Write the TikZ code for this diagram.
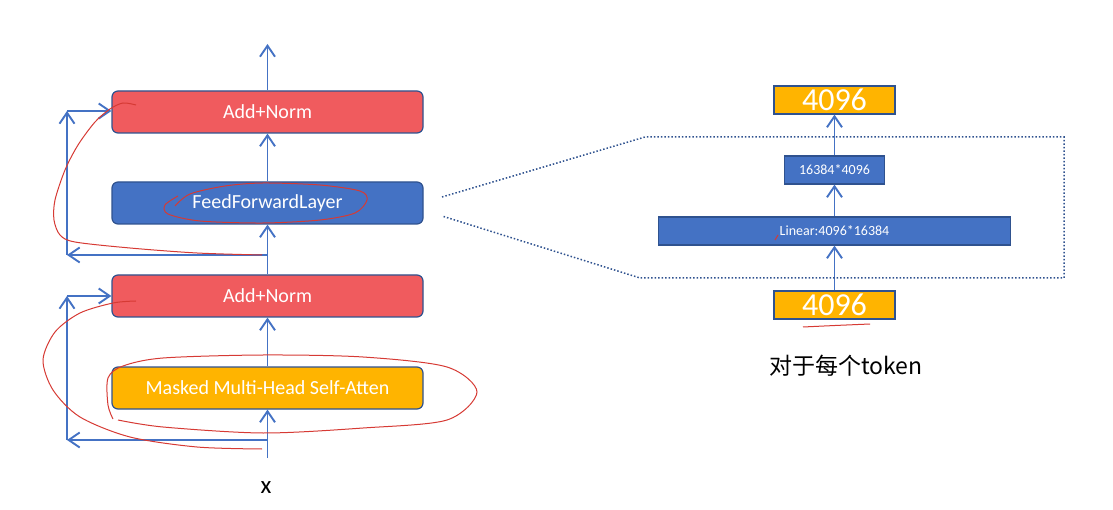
\documentclass[tikz,border=0pt]{standalone}
\usepackage{fontspec}
\setmainfont{Carlito}
\newfontfamily\cjk{Noto Sans CJK SC}
\usetikzlibrary{arrows.meta}
\definecolor{boxblue}{HTML}{4472C4}
\definecolor{edgeblue}{HTML}{2F528F}
\definecolor{boxred}{HTML}{F05B5E}
\definecolor{boxgold}{HTML}{FFB400}
\definecolor{ink}{HTML}{D63A34}

\begin{document}
\begin{tikzpicture}[x=1pt,y=-1pt,
    layer/.style={draw=edgeblue,line width=1.2pt,rounded corners=6pt,minimum width=311pt,minimum height=42pt,inner sep=0pt,text=white,font=\fontsize{20}{24}\selectfont},
    cell/.style={draw=edgeblue,line width=1.2pt,minimum height=28pt,inner sep=0pt,text=white},
    arr/.style={boxblue,line width=1.9pt,-{Straight Barb[length=11pt,width=15pt]}},
    zoomline/.style={edgeblue,line width=1.5pt,dotted},
    pen/.style={ink,line width=1pt}]
            \useasboundingbox (0,0) rectangle (1113,510);
            \node[layer,fill=boxred] (an1) at (267.5,112) {Add+Norm};
            \node[layer,fill=boxblue] (ffl) at (267.5,203) {FeedForwardLayer};
            \node[layer,fill=boxred] (an2) at (267.5,296) {Add+Norm};
            \node[layer,fill=boxgold] (mha) at (267.5,388) {Masked Multi-Head Self-Atten};
            \node[font=\fontsize{25}{28}\selectfont] (x) at (266,488) {x};
            \coordinate (out) at (267.5,44);
            \coordinate (in) at (267.5,458);
            \draw[arr] (an1) -- (out);
            \draw[arr] (ffl) -- (an1);
            \draw[arr] (an2) -- (ffl);
            \draw[arr] (mha) -- (an2);
            \draw[arr] (in) -- (mha);
            \coordinate (s1) at (267.5,255);
            \coordinate (l1) at (67,255);
            \coordinate (t1) at (67,111);
            \draw[arr] (s1) -- (l1);
            \draw[arr] (l1) -- (t1);
            \draw[arr] (t1) -- (an1.west|-t1);
            \coordinate (s2) at (267.5,440);
            \coordinate (l2) at (67,440);
            \coordinate (t2) at (67,296);
            \draw[arr] (s2) -- (l2);
            \draw[arr] (l2) -- (t2);
            \draw[arr] (t2) -- (an2.west|-t2);
            \node[cell,fill=boxgold,minimum width=121pt,font=\fontsize{32}{36}\selectfont] (o) at (834.5,100) {4096};
            \node[cell,fill=boxblue,minimum width=100pt,font=\fontsize{14}{16}\selectfont] (w2) at (834.5,170) {16384*4096};
            \node[cell,fill=boxblue,minimum width=352pt,font=\fontsize{14}{16}\selectfont] (w1) at (834.5,231) {Linear:4096*16384};
            \node[cell,fill=boxgold,minimum width=121pt,font=\fontsize{32}{36}\selectfont] (i) at (834.5,305) {4096};
            \node[font=\cjk\fontsize{23}{28}\selectfont] (each) at (846,366) {对于每个token};
            \draw[arr] (i) -- (w1);
            \draw[arr] (w1) -- (w2);
            \draw[arr] (w2) -- (o);
            \coordinate (z1) at (442,197);
            \coordinate (z2) at (442,216);
            \draw[zoomline] (z1) -- (645,137) -- (1064,137) -- (1064,278) -- (640,278) -- (z2);
            \draw[pen] plot[smooth] coordinates {(136,105) (123,103) (110,109) (95,122) (78,145) (65,170) (55,200) (54,220) (60,235) (75,242) (130,248) (197,253) (262,255)};
            \draw[pen] plot[smooth] coordinates {(175,206) (190,194) (225,186) (263,183) (320,185) (360,191) (367,200) (355,213) (320,220) (263,223) (200,221) (168,214) (165,205) (178,196)};
            \draw[pen] plot[smooth] coordinates {(136,301) (113,303) (80,313) (55,332) (43,360) (53,390) (80,417) (130,437) (197,447) (262,449)};
            \draw[pen] plot[smooth] coordinates {(113,419) (108,405) (108,378) (123,366) (163,358) (263,355) (363,357) (447,367) (477,392) (447,420) (363,428) (263,433) (163,427) (118,420)};
            \draw[pen] plot[smooth] coordinates {(803,327) (835,325.5) (870,324)};
            \draw[pen] (775,240) -- (778,235);
        \end{tikzpicture}
\end{document}
